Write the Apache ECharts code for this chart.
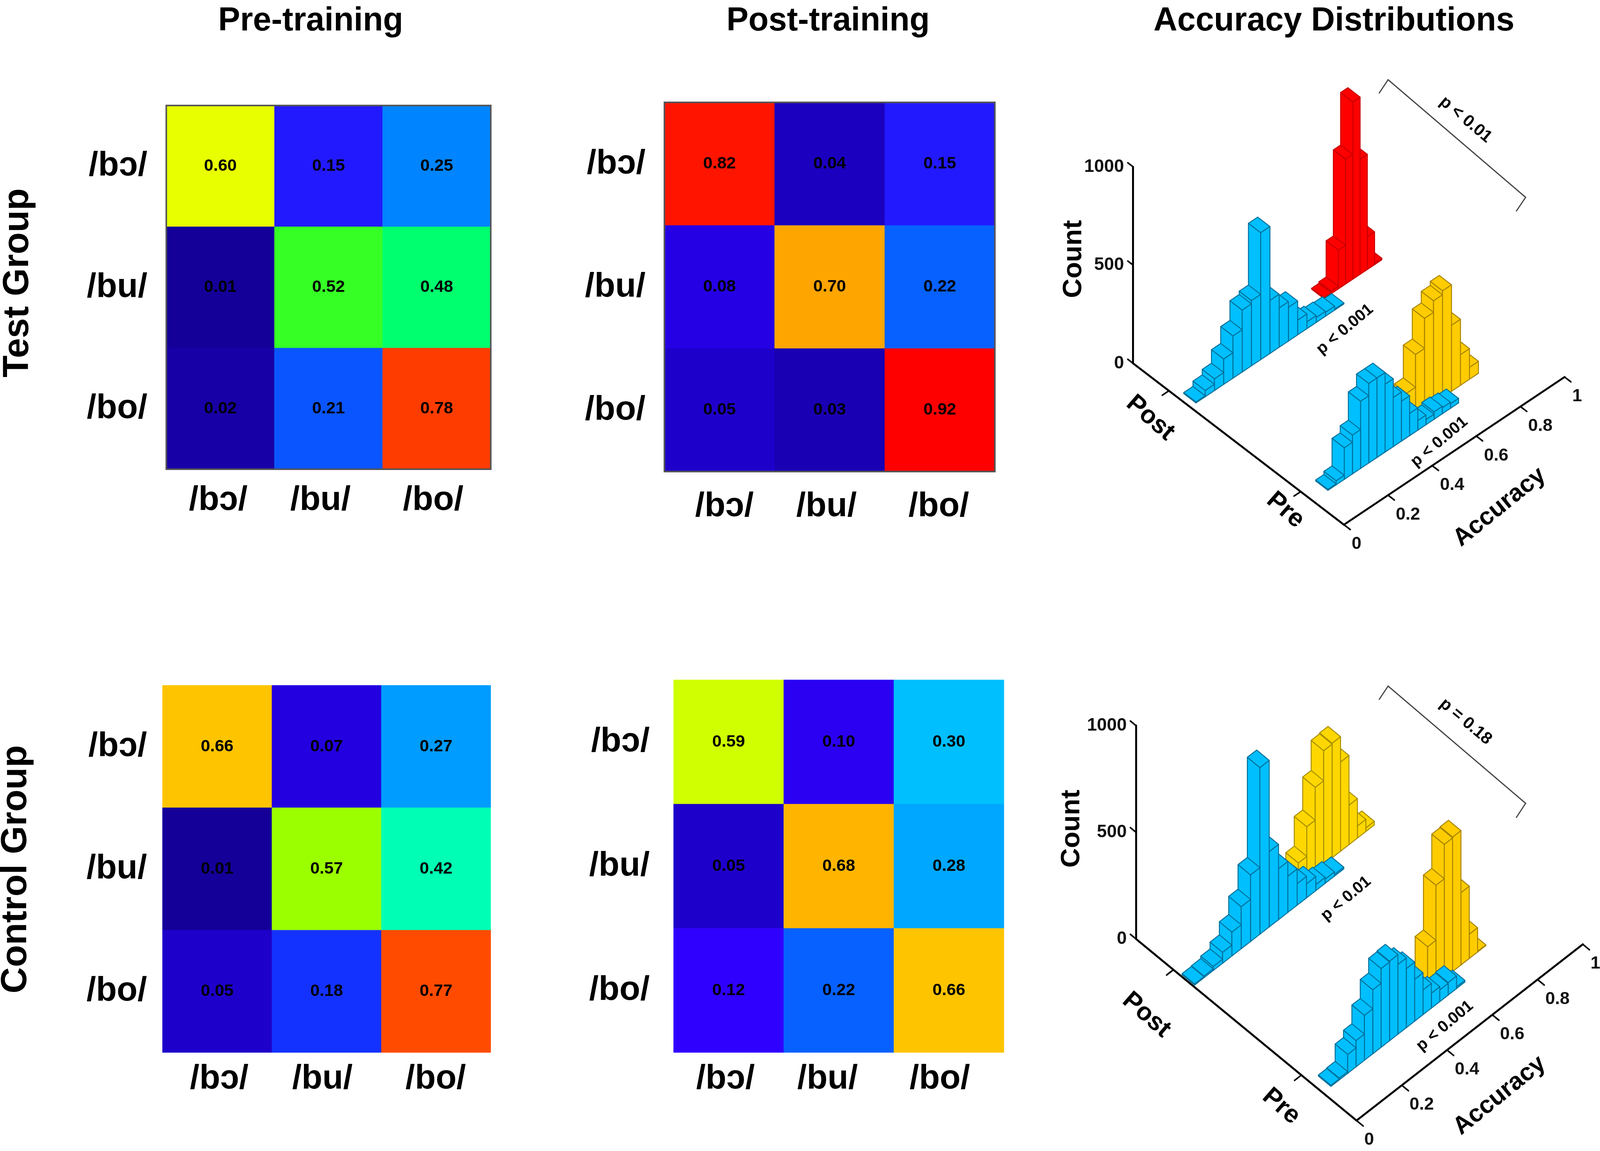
<!DOCTYPE html>
<html><head><meta charset="utf-8">
<style>html,body{margin:0;padding:0;background:#fff;overflow:hidden}#c{width:100vw;height:100vh}</style>
<script src="https://cdn.jsdelivr.net/npm/echarts@6/dist/echarts.min.js"></script>
</head><body><div id="c"></div>
<script>
// ---------- data ----------
const phonemes = ['/bɔ/', '/bu/', '/bo/'];
const testPre  = [[0.60,0.15,0.25],[0.01,0.52,0.48],[0.02,0.21,0.78]];
const testPost = [[0.82,0.04,0.15],[0.08,0.70,0.22],[0.05,0.03,0.92]];
const ctrlPre  = [[0.66,0.07,0.27],[0.01,0.57,0.42],[0.05,0.18,0.77]];
const ctrlPost = [[0.59,0.10,0.30],[0.05,0.68,0.28],[0.12,0.22,0.66]];
const jetColors = ['#12008c','#2000d8','#3000ff','#1432ff','#0078ff','#00bfff','#00e8dc','#00ffb4','#00ff6e','#50ff00','#e8ff00','#ffc400','#ff9600','#ff3c00','#ff0000','#ff0000','#ff0000','#ff0000'];

// histogram counts per accuracy bin
const testPostTrainBlue = [5,32,60,129,215,315,332,646,270,200,172,75,35,25,20,5];
const testPostTrainRed  = [5,13,197,635,902,586,167,8];
const testPreTrainBlue  = [5,21,161,198,342,405,405,345,250,203,113,49,26,38,31,23];
const testPreTrainGold  = [143,310,463,522,542,336,156,61];
const ctrlPostTrainBlue = [5,8,19,51,112,197,312,781,353,239,170,101,66,28,20,8];
const ctrlPostTrainGold = [99,238,392,533,537,418,185,57,17];
const ctrlPreTrainBlue  = [5,8,89,123,211,300,369,373,327,277,196,116,70,55,59,8];
const ctrlPreTrainGold  = [207,465,626,630,339,114,3];

const accuracyTicks = [0,0.2,0.4,0.6,0.8,1];
const countTicks = [0,500,1000];

// ---------- layout: designed on the 4561x2946 frame, fitted to the real window ----------
const sx = innerWidth/4561, sy = innerHeight/2946;
const X = v => v*sx, Y = v => v*sy, F = v => v*sx;
const rotOf = deg => Math.atan(Math.tan(deg*Math.PI/180)*sy/sx);
const FONT = '"Liberation Sans", Arial, sans-serif';
const heatPanels = [
  {vals:testPre,  l:474, r:1399, t:270,  b:1201, border:true,  shift:[6,23,10],   lm:54, bm:36},
  {vals:testPost, l:1894,r:2836, t:262,  b:1207, border:true,  shift:[-14,9,3],   lm:54, bm:46},
  {vals:ctrlPre,  l:463, r:1399, t:1754, b:2694, border:false, shift:[-6,12,1],   lm:44, bm:24},
  {vals:ctrlPost, l:1920,r:2862, t:1740, b:2694, border:false, shift:[9,32,26],   lm:68, bm:24}
];
const histPanels = [
  {O:[3230,930],  h:503, A:[629,378], G:[601,413], depth:0.058,
   rows:[
    {c:testPostTrainRed,  a0:0.666, w:0.0328, g:0.208, col:'#ff0000', st:'#c80000'},
    {c:testPostTrainBlue, a0:0.027, w:0.0419, g:0.270, col:'#00bfff', st:'#00709a'},
    {c:testPreTrainGold,  a0:0.478, w:0.0407, g:0.797, col:'#ffcc00', st:'#a88400'},
    {c:testPreTrainBlue,  a0:0.070, w:0.0370, g:0.851, col:'#00bfff', st:'#00709a'}],
   catTicks:[0.17,0.795], countDy:10},
  {O:[3238,2403], h:546, A:[645,451], G:[629,465], depth:0.0567,
   rows:[
    {c:ctrlPostTrainGold, a0:0.520, w:0.0373, g:0.203, col:'#ffd700', st:'#a88e00'},
    {c:ctrlPostTrainBlue, a0:0.006, w:0.0412, g:0.260, col:'#00bfff', st:'#00709a'},
    {c:ctrlPreTrainGold,  a0:0.519, w:0.0368, g:0.790, col:'#ffcc00', st:'#a88400'},
    {c:ctrlPreTrainBlue,  a0:0.036, w:0.0370, g:0.847, col:'#00bfff', st:'#00709a'}],
   catTicks:[0.17,0.75], countDy:14}
];

// ---------- build ----------
const grid=[], xAxis=[], yAxis=[], series=[];
heatPanels.forEach((p,k)=>{
  grid.push({left:X(p.l), top:Y(p.t), width:X(p.r-p.l), height:Y(p.b-p.t), z:6, show:p.border,
             borderColor:'#555', borderWidth:4, backgroundColor:'transparent'});
  const rich={};
  p.shift.forEach((s,i)=>{rich['s'+i]={fontFamily:FONT,fontWeight:'bold',fontSize:F(97),color:'#000',
    padding:[0,s>0?X(2*s):0,0,s<0?X(-2*s):0]};});
  xAxis.push({type:'category',gridIndex:k,data:phonemes,axisLine:{show:false},axisTick:{show:false},splitLine:{show:false},
    axisLabel:{interval:0,margin:Y(p.bm),formatter:(v,i)=>`{s${i}|${v}}`,rich}});
  yAxis.push({type:'category',gridIndex:k,data:phonemes,inverse:true,axisLine:{show:false},axisTick:{show:false},splitLine:{show:false},
    axisLabel:{interval:0,margin:X(p.lm),fontFamily:FONT,fontWeight:'bold',fontSize:F(97),color:'#000'}});
  const data=[];
  p.vals.forEach((row,y)=>row.forEach((v,x)=>data.push([x,y,v])));
  series.push({type:'heatmap',xAxisIndex:k,yAxisIndex:k,data,z:2,
    label:{show:true,formatter:o=>o.value[2].toFixed(2),fontFamily:FONT,fontWeight:'bold',fontSize:F(48),color:'#000'},
    itemStyle:{borderWidth:0}});
});

histPanels.forEach((p)=>{
  const idx=grid.length;
  const Ax=X(p.A[0]), Ay=Y(p.A[1]), Gx=X(p.G[0]), Gy=Y(p.G[1]);
  grid.push({left:X(p.O[0]),top:Y(p.O[1]-p.h),width:Ax,height:Y(p.h),show:false});
  xAxis.push({type:'value',gridIndex:idx,min:0,max:1,show:false});
  yAxis.push({type:'value',gridIndex:idx,min:0,max:1000,interval:500,
    axisLine:{show:true,lineStyle:{color:'#000',width:5}},axisTick:{show:false},splitLine:{show:false},
    axisLabel:{margin:X(26),fontFamily:FONT,fontWeight:'bold',fontSize:F(51),color:'#111',
      formatter:v=>String(v),padding:[0,0,Y(p.countDy*2),0]}});
  const proj=(api,a,g,c)=>{const b=api.coord([a,c]);return [b[0]+g*Gx, b[1]+g*Gy-a*Ay];};
  p.rows.forEach((r,ri)=>{
    const data=r.c.map((c,i)=>[r.a0+i*r.w,c]).reverse();
    series.push({type:'custom',xAxisIndex:idx,yAxisIndex:idx,data,z:10+ri,clip:false,silent:true,
      encode:{x:0,y:1},
      renderItem(params,api){
        const a=api.value(0),c=api.value(1),gf=r.g,gb=r.g-p.depth,a2=a+r.w;
        const st={fill:r.col,stroke:r.st,lineWidth:2.5,lineJoin:'round'};
        const P=(x,g,v)=>proj(api,x,g,v);
        const poly=pts=>({type:'polygon',shape:{points:pts},style:st});
        return {type:'group',children:[
          poly([P(a,gb,0),P(a,gf,0),P(a,gf,c),P(a,gb,c)]),
          poly([P(a,gf,0),P(a2,gf,0),P(a2,gf,c),P(a,gf,c)]),
          poly([P(a,gb,c),P(a,gf,c),P(a2,gf,c),P(a2,gb,c)])
        ]};
      }});
  });
  // oblique axes
  series.push({type:'custom',xAxisIndex:idx,yAxisIndex:idx,data:[[0,0]],z:20,clip:false,silent:true,
    encode:{x:0,y:1},
    renderItem(params,api){
      const line=(a,b,w)=>({type:'line',shape:{x1:a[0],y1:a[1],x2:b[0],y2:b[1]},style:{stroke:'#000',lineWidth:w||5,lineCap:'round'}});
      const P=(a,g,c)=>proj(api,a,g,c);
      const ch=[line(P(0,0,0),P(0,1,0)),line(P(0,1,0),P(1,1,0))];
      countTicks.forEach(v=>ch.push(line(P(0,0,v),P(0,-0.025,v),4)));
      p.catTicks.forEach(g=>ch.push(line(P(0,g,0),P(-0.03,g,0),4)));
      accuracyTicks.forEach(v=>{
        const q=P(v,1,0);
        ch.push(line(q,P(v,1.03,0),4));
        ch.push({type:'text',style:{text:String(v),x:q[0]+X(22),y:q[1]+Y(50),fill:'#111',
          font:`bold ${F(50)}px ${FONT}`,align:'left',verticalAlign:'middle'}});
      });
      return {type:'group',children:ch};
    }});
});

const txt=(text,x,y,size,rotDeg,weight)=>({type:'text',x:X(x),y:Y(y),rotation:rotOf(rotDeg||0),
  style:{text,fill:'#000',font:`${weight||'bold'} ${F(size)}px ${FONT}`,align:'center',verticalAlign:'middle'},z:30});
const vtxt=(text,x,y,size)=>({type:'text',x:X(x),y:Y(y),rotation:Math.PI/2,
  style:{text,fill:'#000',font:`bold ${Y(size)}px ${FONT}`,align:'center',verticalAlign:'middle'},z:30});
const bracket=pts=>({type:'polyline',shape:{points:pts.map(q=>[X(q[0]),Y(q[1])])},style:{stroke:'#444',lineWidth:3,fill:'none'},z:30});
const graphic=[
  vtxt('Test Group',52,724,92),
  vtxt('Control Group',46,2225,93),
  vtxt('Count',3061,663,69),
  txt('Post',3279,1070,72,-38),
  txt('Pre',3664,1306,72,-38),
  txt('Accuracy',4275,1298,70,36),
  txt('p < 0.01',4178,306,48,-37),
  txt('p < 0.001',3834,843,46,37),
  txt('p < 0.001',4103,1131,46,37),
  bracket([[3931,239],[3957,204],[4349,505],[4322,541]]),
  vtxt('Count',3056,2121,69),
  txt('Post',3268,2598,72,-38),
  txt('Pre',3652,2832,72,-38),
  txt('Accuracy',4275,2804,70,36),
  txt('p = 0.18',4178,1847,48,-37),
  txt('p < 0.01',3837,2300,46,37),
  txt('p < 0.001',4119,2626,46,37),
  bracket([[3931,1791],[3957,1756],[4349,2056],[4322,2093]])
];

const titleStyle={fontFamily:FONT,fontWeight:'bold',fontSize:F(94),color:'#000'};
const chart=echarts.init(document.getElementById('c'));
chart.setOption({
  animation:false,backgroundColor:'#fff',
  title:[
    {text:'Pre-training',left:X(880),top:Y(8),textAlign:'center',textStyle:titleStyle},
    {text:'Post-training',left:X(2355),top:Y(8),textAlign:'center',textStyle:titleStyle},
    {text:'Accuracy Distributions',left:X(3797),top:Y(8),textAlign:'center',textStyle:titleStyle}
  ],
  visualMap:{show:false,type:'continuous',min:0,max:1.02,seriesIndex:[0,1,2,3],dimension:2,inRange:{color:jetColors}},
  grid,xAxis,yAxis,series,graphic
});
</script></body></html>
